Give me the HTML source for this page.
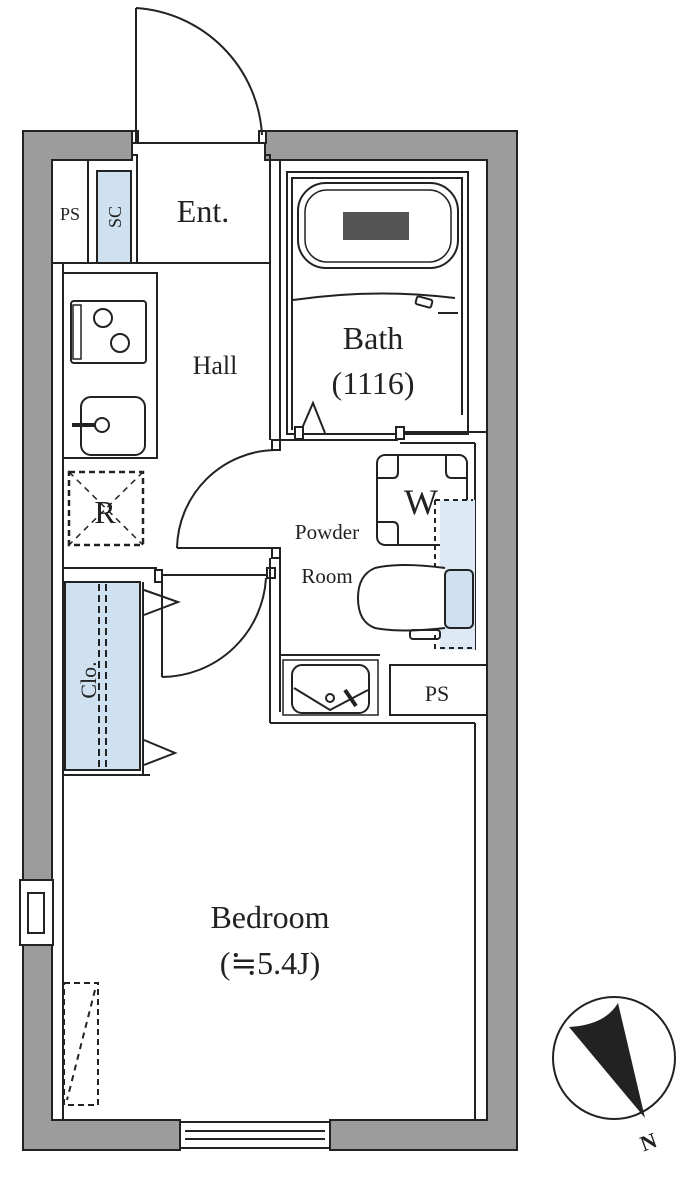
<!DOCTYPE html>
<html><head><meta charset="utf-8"><style>
html,body{margin:0;padding:0;background:#fff;}
svg{display:block;}
text{font-family:"Liberation Serif","DejaVu Serif",serif;fill:#222;}
</style></head><body>
<svg width="700" height="1178" viewBox="0 0 700 1178" xmlns="http://www.w3.org/2000/svg">
<g stroke="#222" stroke-width="2" fill="none">
<path d="M23,131 H132 V160 H52 V1120 H180 V1150 H23 Z" fill="#9c9c9c"/>
<path d="M265,131 H517 V1150 H330 V1120 H487 V160 H265 Z" fill="#9c9c9c"/>
<rect x="20" y="880" width="33" height="65" fill="#fff"/>
<rect x="28" y="893" width="16" height="40" fill="#fff"/>
<rect x="180" y="1122" width="150" height="26" fill="#fff"/>
<line x1="185" y1="1131" x2="325" y2="1131"/>
<line x1="185" y1="1139" x2="325" y2="1139"/>
<line x1="63" y1="263" x2="63" y2="1120"/>
<rect x="132" y="131" width="6" height="12" fill="#fff"/>
<rect x="259" y="131" width="7" height="12" fill="#fff"/>
<line x1="136" y1="143" x2="265" y2="143"/>
<line x1="136" y1="143" x2="136" y2="8"/>
<path d="M136,8 A135,135 0 0 1 262,135"/>
<path d="M132,143 V155 H137 V263"/>
<path d="M265,143 V155 H270 V440"/>
<line x1="52" y1="263" x2="270" y2="263"/>
<line x1="88" y1="160" x2="88" y2="263"/>
<rect x="97" y="171" width="34" height="92" fill="#cfe0f0"/>
<rect x="63" y="273" width="94" height="185"/>
<rect x="71" y="301" width="75" height="62" rx="3"/>
<rect x="73" y="305" width="8" height="54" stroke-width="1.5"/>
<circle cx="103" cy="318" r="9"/><circle cx="120" cy="343" r="9"/>
<rect x="81" y="397" width="64" height="58" rx="10"/>
<circle cx="102" cy="425" r="7"/>
<line x1="72" y1="425" x2="95" y2="425" stroke-width="4"/>
<rect x="69" y="472" width="74" height="73" stroke-dasharray="6,4" stroke-width="2.5"/>
<line x1="69" y1="472" x2="143" y2="545" stroke-dasharray="6,5" stroke-width="1.5"/>
<line x1="143" y1="472" x2="69" y2="545" stroke-dasharray="6,5" stroke-width="1.5"/>
<line x1="63" y1="568" x2="157" y2="568"/>
<rect x="65" y="582" width="75" height="188" fill="#cfe0f0"/>
<line x1="99" y1="584" x2="99" y2="768" stroke-dasharray="7,4"/>
<line x1="106" y1="584" x2="106" y2="768" stroke-dasharray="7,4"/>
<line x1="143" y1="582" x2="143" y2="775"/>
<line x1="63" y1="775" x2="150" y2="775"/>
<path d="M144,590 L178,602 L144,615"/>
<path d="M144,740 L175,753 L144,765"/>
<rect x="155" y="570" width="7" height="12" fill="#fff"/>
<line x1="162" y1="575" x2="268" y2="575"/>
<line x1="162" y1="575" x2="162" y2="677"/>
<path d="M162,677 A105,105 0 0 0 266,578"/>
<line x1="177" y1="548" x2="276" y2="548"/>
<path d="M177,548 A100,100 0 0 1 276,450"/>
<rect x="272" y="440" width="8" height="10" fill="#fff"/>
<rect x="272" y="548" width="8" height="10" fill="#fff"/>
<rect x="267" y="568" width="8" height="10" fill="#fff"/>
<line x1="270" y1="558" x2="270" y2="723"/>
<line x1="280" y1="558" x2="280" y2="712"/>
<line x1="280" y1="160" x2="280" y2="440"/>
<rect x="287" y="172" width="181" height="262" fill="none"/>
<path d="M292,430 V178 H462 V415"/>
<rect x="298" y="183" width="160" height="85" rx="28"/>
<rect x="305" y="190" width="146" height="72" rx="22" stroke-width="1.5"/>
<rect x="343" y="212" width="66" height="28" fill="#555" stroke="none"/>
<path d="M293,300 Q375,288 455,298" />
<rect x="416" y="298" width="16" height="8" rx="2" transform="rotate(15 424 302)"/>
<line x1="438" y1="313" x2="458" y2="313"/>
<path d="M300,433 L313,403 L325,433"/>
<line x1="280" y1="440" x2="398" y2="440"/>
<line x1="398" y1="432" x2="487" y2="432"/>
<rect x="295" y="427" width="8" height="12" fill="#fff"/>
<rect x="396" y="427" width="8" height="12" fill="#fff"/>
<line x1="400" y1="443" x2="475" y2="443"/>
<line x1="475" y1="443" x2="475" y2="650"/>
<rect x="377" y="455" width="90" height="90" rx="8"/>
<path d="M377,478 H393 Q398,478 398,472 V455 M446,455 V472 Q446,478 452,478 H467 M377,522 H393 Q398,522 398,528 V545 M446,545 V528 Q446,522 452,522 H467" fill="none"/>
<rect x="440" y="500" width="35" height="150" fill="#dde9f5" stroke="none"/>
<path d="M435,500 H473 M435,500 V648 H475" stroke-dasharray="5,4"/>
<path d="M445,568 Q400,562 375,568 Q358,575 358,598 Q358,622 375,628 Q400,633 445,628" fill="#fff"/>
<rect x="445" y="570" width="28" height="58" rx="5" fill="#cfe0f0"/>
<rect x="410" y="630" width="30" height="9" rx="3"/>
<line x1="280" y1="655" x2="380" y2="655"/>
<rect x="283" y="660" width="95" height="55" stroke-width="1.5"/>
<rect x="292" y="665" width="77" height="48" rx="10"/>
<path d="M294,688 L330,710 L368,690"/>
<circle cx="330" cy="698" r="4"/>
<line x1="345" y1="690" x2="356" y2="706" stroke-width="4"/>
<rect x="390" y="665" width="97" height="50"/>
<line x1="270" y1="723" x2="475" y2="723"/>
<line x1="475" y1="723" x2="475" y2="1120"/>
<rect x="64" y="983" width="34" height="122" stroke-dasharray="6,4" stroke-width="2"/>
<line x1="95" y1="990" x2="67" y2="1100" stroke-dasharray="6,5" stroke-width="2"/>
<circle cx="614" cy="1058" r="61" stroke-width="2"/>
<path d="M569,1027 Q605,1025 618,1003 L645,1118 Z" fill="#222" stroke="none"/>
</g>
<text x="70" y="220" font-size="18" text-anchor="middle">PS</text>
<text transform="translate(121,217) rotate(-90)" font-size="18" text-anchor="middle">SC</text>
<text x="203" y="222" font-size="32" text-anchor="middle">Ent.</text>
<text x="215" y="374" font-size="26" text-anchor="middle">Hall</text>
<text x="373" y="349" font-size="32" text-anchor="middle">Bath</text>
<text x="373" y="394" font-size="32" text-anchor="middle">(1116)</text>
<text x="105" y="523" font-size="32" text-anchor="middle">R</text>
<text x="421" y="514" font-size="36" text-anchor="middle">W</text>
<text x="327" y="539" font-size="21" text-anchor="middle">Powder</text>
<text x="327" y="583" font-size="21" text-anchor="middle">Room</text>
<text transform="translate(96,680) rotate(-90)" font-size="22" text-anchor="middle">Clo.</text>
<text x="437" y="701" font-size="22" text-anchor="middle">PS</text>
<text x="270" y="928" font-size="32" text-anchor="middle">Bedroom</text>
<text x="270" y="974" font-size="32" text-anchor="middle">(≒5.4J)</text>
<text x="640" y="1148" font-size="22" font-weight="bold" transform="rotate(-20 652 1140)" font-family="Liberation Sans, sans-serif">N</text>
</svg>
</body></html>
